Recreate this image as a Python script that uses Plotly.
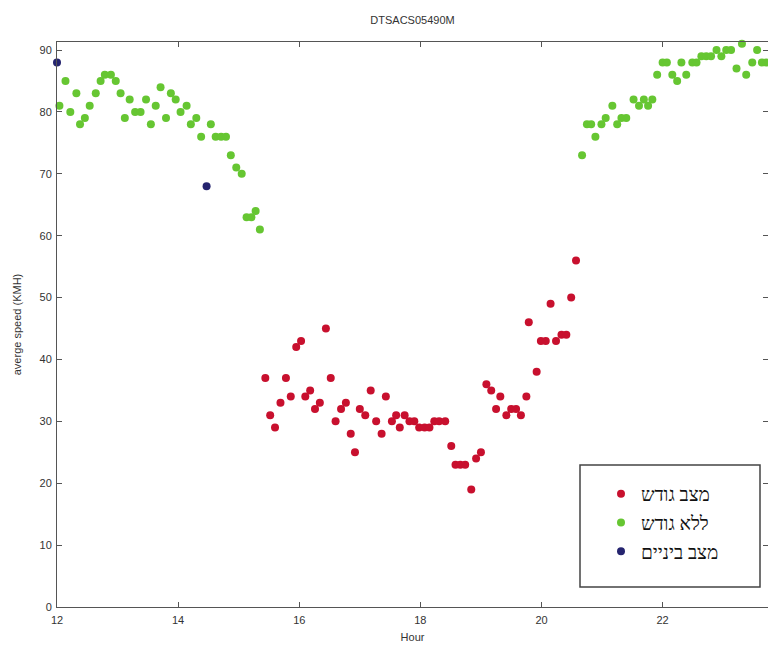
import plotly.graph_objects as go

# Red: congested (מצב גודש)
red_x = [15.44, 15.52, 15.60, 15.69, 15.78, 15.86, 15.95, 16.03, 16.10, 16.18, 16.26, 16.34,
         16.44, 16.52, 16.60, 16.69, 16.77, 16.85, 16.92, 17.00, 17.09, 17.18, 17.27, 17.36,
         17.43, 17.53, 17.60, 17.66, 17.74, 17.82, 17.90, 17.98, 18.07, 18.15, 18.23, 18.31,
         18.41, 18.51, 18.58, 18.66, 18.74, 18.84, 18.92, 19.00, 19.09, 19.17, 19.25, 19.32,
         19.42, 19.50, 19.58, 19.66, 19.75, 19.79, 19.92, 19.99, 20.07, 20.15, 20.24, 20.33,
         20.41, 20.49, 20.57]
red_y = [37, 31, 29, 33, 37, 34, 42, 43, 34, 35, 32, 33,
         45, 37, 30, 32, 33, 28, 25, 32, 31, 35, 30, 28,
         34, 30, 31, 29, 31, 30, 30, 29, 29, 29, 30, 30,
         30, 26, 23, 23, 23, 19, 24, 25, 36, 35, 32, 34,
         31, 32, 32, 31, 34, 46, 38, 43, 43, 49, 43, 44,
         44, 50, 56]

# Green: free flow (ללא גודש)
green_x = [12.04, 12.14, 12.22, 12.32, 12.38, 12.46, 12.54, 12.64, 12.72, 12.79, 12.89, 12.97,
           13.05, 13.12, 13.20, 13.29, 13.38, 13.47, 13.55, 13.63, 13.71, 13.80, 13.88, 13.96,
           14.04, 14.14, 14.21, 14.30, 14.38, 14.54, 14.62, 14.71, 14.79, 14.87, 14.96, 15.05,
           15.13, 15.21, 15.28, 15.35,
           20.67, 20.75, 20.82, 20.89, 20.99, 21.06, 21.17, 21.25, 21.32, 21.40, 21.52, 21.61,
           21.69, 21.76, 21.83, 21.91, 22.00, 22.07, 22.16, 22.24, 22.31, 22.39, 22.49, 22.56,
           22.64, 22.72, 22.80, 22.89, 22.97, 23.05, 23.13, 23.22, 23.31, 23.38, 23.48, 23.56,
           23.64, 23.71]
green_y = [81, 85, 80, 83, 78, 79, 81, 83, 85, 86, 86, 85,
           83, 79, 82, 80, 80, 82, 78, 81, 84, 79, 83, 82,
           80, 81, 78, 79, 76, 78, 76, 76, 76, 73, 71, 70,
           63, 63, 64, 61,
           73, 78, 78, 76, 78, 79, 81, 78, 79, 79, 82, 81,
           82, 81, 82, 86, 88, 88, 86, 85, 88, 86, 88, 88,
           89, 89, 89, 90, 89, 90, 90, 87, 91, 86, 88, 90,
           88, 88]

# Blue: intermediate (מצב ביניים)
blue_x = [12.0, 14.47]
blue_y = [88, 68]

x_ticks = [12, 14, 16, 18, 20, 22]
y_ticks = [0, 10, 20, 30, 40, 50, 60, 70, 80, 90]

FONT = "Liberation Sans, Arial, sans-serif"

fig = go.Figure()
series = [
    ("מצב גודש", red_x, red_y, "#c8102e"),
    ("ללא גודש", green_x, green_y, "#66c632"),
    ("מצב ביניים", blue_x, blue_y, "#25246f"),
]
for i, (name, xs, ys, col) in enumerate(series):
    fig.add_trace(go.Scatter(
        x=xs, y=ys, mode="markers", name=name, legendgroup=f"g{i}",
        marker=dict(color=col, size=8, line=dict(width=0)),
        cliponaxis=False,
    ))

L, R, T, B = 57, 0, 42, 39
W, H = 768, 646
pw, ph = W - L - R, H - T - B

def px_x(p):
    return (p - L) / pw

def px_y(p):
    return (H - B - p) / ph

axis_common = dict(
    showline=True, linecolor="#555", linewidth=1, mirror="ticks",
    ticks="inside", ticklen=5, tickcolor="#555", showgrid=False, zeroline=False,
    tickfont=dict(family=FONT, size=11, color="#333"),
)

fig.update_layout(
    width=W, height=H,
    margin=dict(l=L, r=R, t=T, b=B),
    paper_bgcolor="white", plot_bgcolor="white",
    title=dict(text="DTSACS05490M", x=0.5, xref="paper", y=1 - 20 / H, yanchor="middle",
               font=dict(family=FONT, size=11, color="#333")),
    xaxis=dict(range=[12.0, 23.74], tickvals=x_ticks, ticklabelstandoff=3,
               title=dict(text="Hour", font=dict(family=FONT, size=11, color="#333"), standoff=8),
               **axis_common),
    yaxis=dict(range=[0, 91.3], tickvals=y_ticks, ticklabelstandoff=2,
               title=dict(text="averge speed (KMH)", font=dict(family=FONT, size=11, color="#333"), standoff=15),
               **axis_common),
    legend=dict(
        x=px_x(601), y=px_y(475), xanchor="left", yanchor="top",
        bgcolor="rgba(0,0,0,0)", borderwidth=0,
        font=dict(family="Liberation Serif, DejaVu Serif, serif", size=19, color="#111"),
        tracegroupgap=1, itemsizing="trace",
    ),
    shapes=[dict(type="rect", xref="paper", yref="paper",
                 x0=px_x(580), x1=px_x(760), y0=px_y(587), y1=px_y(465),
                 line=dict(color="#444", width=1.5), fillcolor="white", layer="below")],
    showlegend=True,
)

fig.write_html("out.html")
